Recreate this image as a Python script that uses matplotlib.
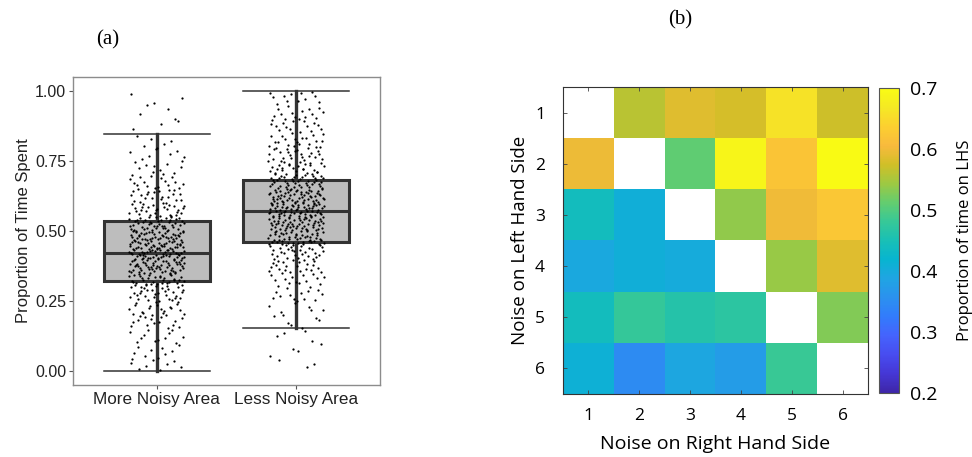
import numpy as np
import matplotlib
matplotlib.use("Agg")
import matplotlib.pyplot as plt
from matplotlib.colors import LinearSegmentedColormap

# ---------------- data ----------------
# (a) box summaries: lower whisker, Q1, median, Q3, upper whisker
groups = ["More Noisy Area", "Less Noisy Area"]
whisker_lo = [0.000, 0.155]
q1 = [0.320, 0.462]
median = [0.423, 0.573]
q3 = [0.535, 0.681]
whisker_hi = [0.845, 1.000]

# (a) number of observations per 0.05-wide band (0.00-0.05 ... 0.95-1.00)
band_edges = np.arange(0.0, 1.0001, 0.05)
counts_more_noisy = [10, 8, 12, 16, 20, 28, 40, 55, 62, 58, 45, 30, 22, 16, 12, 8, 5, 3, 4, 3]
counts_less_noisy = [3, 4, 4, 6, 8, 12, 16, 22, 30, 48, 55, 60, 55, 42, 30, 24, 20, 16, 14, 12]

# (b) proportion of time on LHS, rows = noise on left (1-6), cols = noise on right (1-6)
noise_levels = [1, 2, 3, 4, 5, 6]
prop_lhs = np.array([
    [np.nan, 0.560, 0.585, 0.578, 0.660, 0.572],
    [0.597, np.nan, 0.510, 0.690, 0.620, 0.700],
    [0.442, 0.406, np.nan, 0.537, 0.600, 0.625],
    [0.395, 0.406, 0.400, np.nan, 0.540, 0.585],
    [0.442, 0.478, 0.462, 0.470, np.nan, 0.530],
    [0.410, 0.347, 0.390, 0.375, 0.482, np.nan],
])
cbar_ticks = [0.2, 0.3, 0.4, 0.5, 0.6, 0.7]

# MATLAB-style parula colour map (every 4th entry of the 64-colour table)
parula_rgb = [
    (0.2422, 0.1504, 0.6603), (0.2706, 0.2147, 0.8364), (0.2813, 0.3006, 0.9414),
    (0.2699, 0.3892, 0.9906), (0.1963, 0.4847, 0.9892), (0.1687, 0.5703, 0.9359),
    (0.1248, 0.6459, 0.8883), (0.0297, 0.7082, 0.8163), (0.0964, 0.7500, 0.7120),
    (0.2161, 0.7843, 0.5923), (0.3909, 0.8029, 0.4354), (0.6174, 0.7876, 0.2612),
    (0.8203, 0.7498, 0.1535), (0.9728, 0.7298, 0.2394), (0.9892, 0.8136, 0.1885),
    (0.9597, 0.9135, 0.1423), (0.9769, 0.9839, 0.0805),
]
parula = LinearSegmentedColormap.from_list("parula", parula_rgb, N=256)
parula.set_bad("white")

W, H = 972, 457
fig = plt.figure(figsize=(W / 100, H / 100), dpi=100)


def frac(x0, y0, x1, y1):
    return [x0 / W, 1 - y1 / H, (x1 - x0) / W, (y1 - y0) / H]


def van_der_corput(k, base):
    v, denom = 0.0, 1.0
    while k > 0:
        denom *= base
        k, r = divmod(k, base)
        v += r / denom
    return v


sans = ["Liberation Sans", "DejaVu Sans"]
ui = ["Open Sans", "DejaVu Sans"]
serif = ["Liberation Serif", "DejaVu Serif"]

# ---------------- (a) box plot with jittered points ----------------
ax1 = fig.add_axes(frac(73, 77, 380, 385))
stats = []
for i in range(2):
    stats.append(dict(med=median[i], q1=q1[i], q3=q3[i],
                      whislo=whisker_lo[i], whishi=whisker_hi[i], fliers=[]))
edge = "#333333"
ax1.bxp(stats, positions=[1, 2], widths=0.76, patch_artist=True,
        showfliers=False, manage_ticks=False,
        boxprops=dict(facecolor="#bdbdbd", edgecolor=edge, linewidth=2.2),
        medianprops=dict(color=edge, linewidth=2.2),
        whiskerprops=dict(color=edge, linewidth=2.4),
        capprops=dict(color=edge, linewidth=1.1),
        capwidths=0.76)

# horizontal jitter (width 0.2 either side) and spread inside each band
for gi, (pos, counts) in enumerate(zip([1, 2], [counts_more_noisy, counts_less_noisy])):
    ys, xs = [], []
    k = 7 + 131 * gi
    for b, n in enumerate(counts):
        lo = band_edges[b]
        for j in range(n):
            k += 1
            ys.append(lo + 0.05 * van_der_corput(k, 3))
            xs.append(pos + 0.4 * (van_der_corput(k, 2) - 0.5))
    ax1.scatter(xs, np.clip(ys, 0, 1), s=2.6, c="black", linewidths=0, zorder=5)

ax1.set_xlim(0.4, 2.6)
ax1.set_ylim(-0.05, 1.05)
ax1.set_xticks([1, 2])
ax1.set_xticklabels(groups, fontsize=12.3, family=sans, color="#222222")
ax1.set_yticks([0, 0.25, 0.5, 0.75, 1.0])
ax1.set_yticklabels(["0.00", "0.25", "0.50", "0.75", "1.00"], fontsize=11.5,
                    family=sans, color="#222222")
ax1.set_ylabel("Proportion of Time Spent", fontsize=12, family=sans,
               color="#222222", labelpad=3)
ax1.tick_params(direction="out", length=3, width=0.8, color="#555555", pad=2)
for s in ax1.spines.values():
    s.set_color("#8c8c8c")
    s.set_linewidth(1.0)

fig.text(108 / W, 1 - 40 / H, "(a)", fontsize=15, family=serif,
         ha="center", va="center")
fig.text(680 / W, 1 - 20 / H, "(b)", fontsize=15, family=serif,
         ha="center", va="center")

# ---------------- (b) heat map ----------------
ax2 = fig.add_axes(frac(563, 87, 868, 394))
im = ax2.imshow(prop_lhs, cmap=parula, vmin=0.2, vmax=0.7, aspect="auto",
                extent=(0.5, 6.5, 6.5, 0.5), interpolation="nearest")
ax2.set_xticks(noise_levels)
ax2.set_yticks(noise_levels)
ax2.set_xticklabels([str(v) for v in noise_levels], fontsize=12.5, family=ui)
ax2.set_yticklabels([str(v) for v in noise_levels], fontsize=12.5, family=ui)
ax2.tick_params(direction="in", length=3, width=0.6, color="#444444",
                top=True, right=True)
ax2.tick_params(axis="x", pad=10)
ax2.tick_params(axis="y", pad=13)
ax2.set_xlabel("Noise on Right Hand Side", fontsize=14, family=ui, labelpad=8)
ax2.set_ylabel("Noise on Left Hand Side", fontsize=13.5, family=ui, labelpad=4)
for s in ax2.spines.values():
    s.set_color("#333333")
    s.set_linewidth(0.8)

cax = fig.add_axes(frac(879, 88, 899, 393))
cb = fig.colorbar(im, cax=cax, ticks=cbar_ticks)
cb.ax.set_yticklabels([f"{t:.1f}" for t in cbar_ticks], fontsize=14, family=ui)
cb.ax.tick_params(length=0, pad=8)
cb.outline.set_edgecolor("#555555")
cb.outline.set_linewidth(0.8)
cb.set_label("Proportion of time on LHS", fontsize=12, family=ui, labelpad=14)

fig.savefig("out.png", dpi=100)
